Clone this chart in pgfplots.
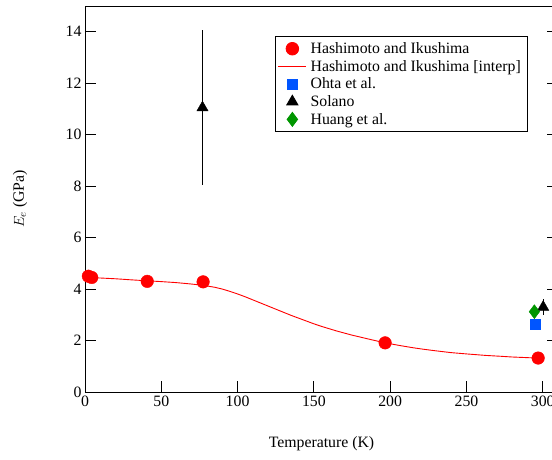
\documentclass[border=0pt]{standalone}
\usepackage{pgfplots}
\pgfplotsset{compat=1.18}
\usepackage{fontspec}
\setmainfont{Liberation Serif}
\definecolor{ohta}{RGB}{0,85,255}
\definecolor{huang}{RGB}{0,150,0}
\pgfplotsset{
  lineleg/.style={legend image code/.code={\draw[red, line width=0.9pt] (0pt,0pt) -- (28pt,0pt);}},
  markleg/.style={legend image code/.code={\draw[mark repeat=2,mark phase=2,##1] plot coordinates {(0pt,0pt) (14pt,0pt) (28pt,0pt)};}},
}
\begin{document}
\begin{tikzpicture}
\begin{axis}[
  scale only axis, width=473pt, height=386pt,
  xmin=0, xmax=310, ymin=0, ymax=15,
  axis line style={line width=0.8pt},
  every tick/.style={black, line width=0.8pt},
  tick align=inside, major tick length=11pt,
  xtick={0,50,...,300}, ytick={0,2,...,14},
  xtick pos=bottom, ytick pos=both, yticklabel pos=left,
  /pgf/number format/assume math mode=true,
  tick label style={font=\fontsize{15.8pt}{18pt}\selectfont},
  label style={font=\fontsize{15.8pt}{18pt}\selectfont},
  xlabel={Temperature (K)},
  ylabel={$E_e$ (GPa)},
  xlabel style={at={(axis description cs:0.5,-0.1347)}, anchor=center},
  ylabel style={at={(axis description cs:-0.1374,0.5)}, anchor=center},
  legend cell align=left,
  legend style={at={(rel axis cs:0.4017,0.9223)}, anchor=north west,
    font=\fontsize{15.8pt}{18pt}\selectfont, draw=black, line width=0.8pt,
    inner xsep=2.5pt, inner ysep=3.5pt, row sep=0pt,
    nodes={inner xsep=3.8pt, inner ysep=2.6pt}},
  markleg,
]
\addplot[only marks, mark=*, mark size=6.3pt, red, mark options={draw=red, fill=red}] coordinates {
  (2.2,4.5) (4.4,4.45) (40.8,4.3) (77.4,4.28) (196.7,1.91) (297,1.32)};
\addlegendentry{Hashimoto and Ikushima}
\addplot[red, line width=0.9pt, no markers, lineleg] coordinates {
  (0,4.45) (10,4.43) (20,4.40) (30,4.36) (41,4.32) (50,4.29) (60,4.25) (69,4.20) (77,4.15)
  (85,4.07) (90,4.00) (95,3.91) (100,3.81) (105,3.70) (110,3.58) (115,3.46) (120,3.34)
  (125,3.22) (130,3.10) (135,2.98) (140,2.87) (145,2.76) (150,2.65) (155,2.55) (160,2.46)
  (165,2.37) (170,2.29) (175,2.21) (180,2.14) (185,2.07) (190,2.00) (197,1.91) (205,1.82)
  (215,1.72) (222,1.66) (230,1.60) (240,1.53) (250,1.48) (263,1.42) (272,1.39) (280,1.36)
  (288,1.34) (296,1.32)};
\addlegendentry{Hashimoto and Ikushima [interp]}
\addplot[only marks, mark=square*, mark size=5pt, ohta, mark options={draw=ohta, fill=ohta}] coordinates {
  (295,2.62)};
\addlegendentry{Ohta et al.}
\addplot[only marks, mark=triangle*, mark size=6.5pt, black, mark options={draw=black, fill=black},
  error bars/.cd, y dir=both, y explicit, error mark=none,
  error bar style={line width=1pt, black}] coordinates {
  (77,11.05) +- (0,3)
  (300.3,3.3) +- (0,0.3)};
\addlegendentry{Solano}
\addplot[only marks, mark=diamond*, mark size=7pt, huang, mark options={draw=huang, fill=huang}] coordinates {
  (294.5,3.12)};
\addlegendentry{Huang et al.}
\coordinate (bbll) at (rel axis cs:0,0);
\end{axis}
\pgfresetboundingbox
\path (bbll) ++(-85pt,-67pt) rectangle ++(552pt,459pt);
\end{tikzpicture}
\end{document}
